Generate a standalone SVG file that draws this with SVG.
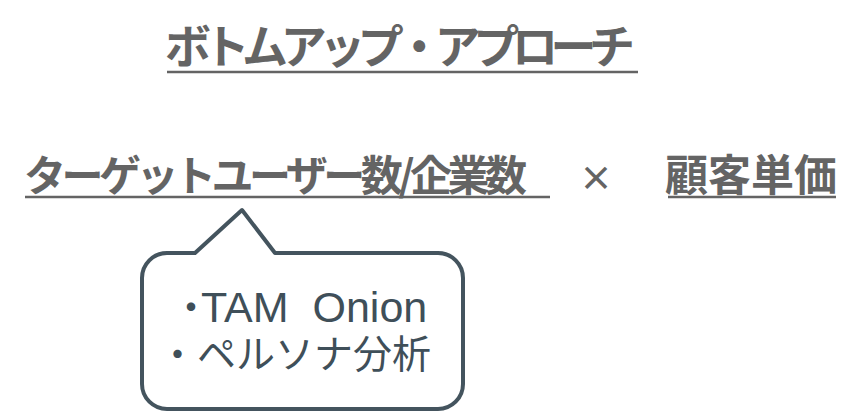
<svg xmlns="http://www.w3.org/2000/svg" width="862" height="412" viewBox="0 0 862 412">
<style>
.hd{font-family:"Noto Sans CJK JP","Liberation Sans",sans-serif;font-weight:bold;fill:#646464}
.ul{stroke:#646464;stroke-width:2.5}
.co{font-family:"Liberation Sans","Noto Sans CJK JP",sans-serif;fill:#3f4f59}
.cj{font-family:"Noto Sans CJK JP",sans-serif}
.bl{font-family:"Noto Sans CJK JP",sans-serif;font-feature-settings:"halt" 1}
</style>
<rect width="862" height="412" fill="#ffffff"/>
<g id="title">
<text class="hd" x="165" y="63" font-size="46" textLength="470" lengthAdjust="spacing">ボトムアップ・アプローチ</text>
<line class="ul" x1="167" y1="72" x2="638" y2="72"/>
</g>
<g id="users">
<text class="hd" x="24" y="191" font-size="42" textLength="503" lengthAdjust="spacing">ターゲットユーザー数/企業数</text>
<line class="ul" x1="25" y1="197" x2="550" y2="197"/>
</g>
<g id="times">
<text class="hd" x="596" y="191" font-size="34" font-weight="normal" text-anchor="middle">×</text>
</g>
<g id="price">
<text class="hd" x="665" y="191" font-size="43">顧客単価</text>
<line class="ul" x1="668" y1="197" x2="836" y2="197"/>
</g>
<g id="callout">
<path d="M167,253 L195,253 L242,210 L275,253 L438,253 A25,25 0 0 1 463,278 L463,384 A25,25 0 0 1 438,409 L167,409 A25,25 0 0 1 142,384 L142,278 A25,25 0 0 1 167,253 Z" fill="#ffffff" stroke="#44545e" stroke-width="4" stroke-linejoin="round"/>
<text class="co" x="181" y="322" font-size="43" xml:space="preserve"><tspan class="bl" font-size="40">・</tspan>TAM  Onion</text>
<text class="co cj" x="158" y="368" font-size="39">・ペルソナ分析</text>
</g>
</svg>
